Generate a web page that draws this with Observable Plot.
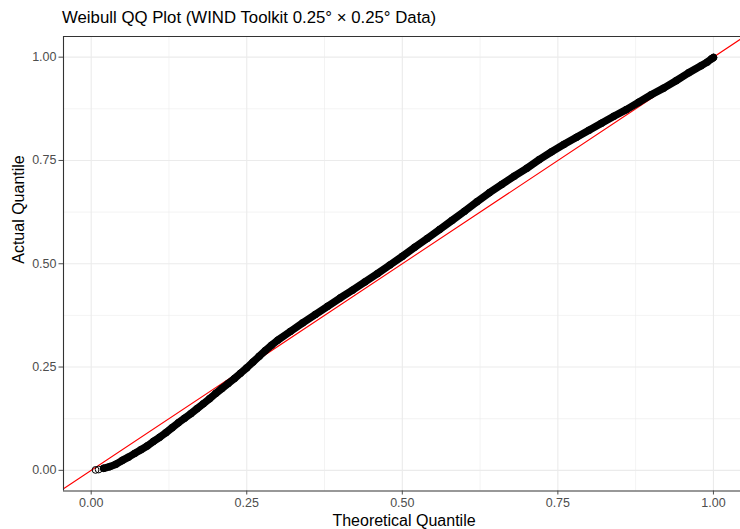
<!DOCTYPE html>
<html>
<head>
<meta charset="utf-8">
<script src="https://cdn.jsdelivr.net/npm/d3@7"></script>
<script src="https://cdn.jsdelivr.net/npm/@observablehq/plot@0.6"></script>
<style>
  html, body { margin: 0; padding: 0; background: #fff; overflow: hidden; }
  #title { position: relative; height: 30px; font-family: "Liberation Sans", Arial, sans-serif; }
  #title span { position: absolute; left: 62px; top: 7.5px; font-size: 16.8px; color: #000; white-space: nowrap; }
  #chart svg { display: block; font-family: "Liberation Sans", Arial, sans-serif; }
</style>
</head>
<body>
<div id="title"><span>Weibull QQ Plot (WIND Toolkit 0.25° × 0.25° Data)</span></div>
<div id="chart"></div>
<script>
// Sample quantiles of the normalised wind speeds against fitted Weibull quantiles
const theoretical = [
  0.007, 0.012, 0.02, 0.03, 0.04, 0.05, 0.06, 0.07, 0.08, 0.09,
  0.10, 0.11, 0.12, 0.13, 0.14, 0.15, 0.16, 0.17, 0.18, 0.19,
  0.20, 0.21, 0.22, 0.23, 0.24, 0.25, 0.26, 0.27, 0.28, 0.29,
  0.30, 0.32, 0.34, 0.36, 0.38, 0.40, 0.42, 0.44, 0.46, 0.48,
  0.50, 0.52, 0.54, 0.56, 0.58, 0.60, 0.62, 0.64, 0.66, 0.68,
  0.70, 0.72, 0.74, 0.76, 0.78, 0.80, 0.82, 0.84, 0.86, 0.88,
  0.90, 0.92, 0.94, 0.96, 0.98, 0.99, 0.997, 1.0
];
const actual = [
  0.001, 0.002, 0.005, 0.009, 0.015, 0.024, 0.032, 0.041, 0.050, 0.059,
  0.070, 0.080, 0.091, 0.103, 0.115, 0.126, 0.137, 0.149, 0.161, 0.173,
  0.186, 0.198, 0.210, 0.222, 0.235, 0.248, 0.262, 0.276, 0.290, 0.303,
  0.315, 0.336, 0.357, 0.377, 0.397, 0.417, 0.436, 0.456, 0.476, 0.497,
  0.518, 0.540, 0.561, 0.583, 0.605, 0.627, 0.650, 0.672, 0.692, 0.712,
  0.731, 0.752, 0.771, 0.789, 0.806, 0.823, 0.840, 0.857, 0.873, 0.891,
  0.909, 0.925, 0.943, 0.962, 0.979, 0.988, 0.996, 0.999
];

// Axis ticks and labels
const majorTicks = [0, 0.25, 0.5, 0.75, 1];
const minorTicks = [0.125, 0.375, 0.625, 0.875];
const xTitle = "Theoretical Quantile";
const yTitle = "Actual Quantile";

const xDomain = [-0.0445, 1.0435];
const yDomain = [-0.05, 1.05];

const rows = theoretical.map((t, i) => ({t, a: actual[i]}));
// identity reference line y = x spanning the panel
const refLine = xDomain.map(v => ({t: v, a: v}));

const grid = "#ebebeb";
const fmt = d3.format(".2f");

const chart = Plot.plot({
  width: 740,
  height: 499,
  marginLeft: 63,
  marginRight: 0,
  marginTop: 6,
  marginBottom: 38.5,
  style: {fontFamily: "Liberation Sans, Arial, sans-serif", background: "#fff"},
  x: {domain: xDomain, axis: null},
  y: {domain: yDomain, axis: null},
  marks: [
    Plot.gridX(minorTicks, {stroke: grid, strokeOpacity: 1, strokeWidth: 0.6}),
    Plot.gridY(minorTicks, {stroke: grid, strokeOpacity: 1, strokeWidth: 0.6}),
    Plot.gridX(majorTicks, {stroke: grid, strokeOpacity: 1, strokeWidth: 1.1}),
    Plot.gridY(majorTicks, {stroke: grid, strokeOpacity: 1, strokeWidth: 1.1}),
    Plot.line(refLine, {x: "t", y: "a", stroke: "#ff0000", strokeWidth: 1.1, clip: true}),
    Plot.line(rows.filter(d => d.t >= 0.02), {
      x: "t", y: "a", stroke: "#000", strokeWidth: 7.5,
      strokeLinecap: "round", strokeLinejoin: "round", clip: true
    }),
    Plot.dot(rows, {x: "t", y: "a", r: 3.4, stroke: "#000", strokeWidth: 1, fill: "none", clip: true}),
    // panel border (left, top, bottom)
    Plot.ruleX([xDomain[0]], {stroke: "#333333", strokeWidth: 1.1}),
    Plot.ruleY(yDomain, {stroke: "#333333", strokeWidth: 1.1}),
    Plot.axisX(majorTicks, {
      anchor: "bottom", tickFormat: fmt, tickSize: 4, tickPadding: 3,
      fontSize: 12.5, color: "#4d4d4d", label: null
    }),
    Plot.axisY(majorTicks, {
      anchor: "left", tickFormat: fmt, tickSize: 4.5, tickPadding: 2.5,
      fontSize: 12.5, color: "#4d4d4d", label: null
    }),
    Plot.text([xTitle], {
      text: d => d, frameAnchor: "bottom", dx: 2, dy: 29.5,
      lineAnchor: "middle", fontSize: 16, fill: "#000"
    }),
    Plot.text([yTitle], {
      text: d => d, frameAnchor: "left", dx: -45, rotate: -90,
      lineAnchor: "middle", fontSize: 16, fill: "#000"
    })
  ]
});

document.getElementById("chart").appendChild(chart);
</script>
</body>
</html>
